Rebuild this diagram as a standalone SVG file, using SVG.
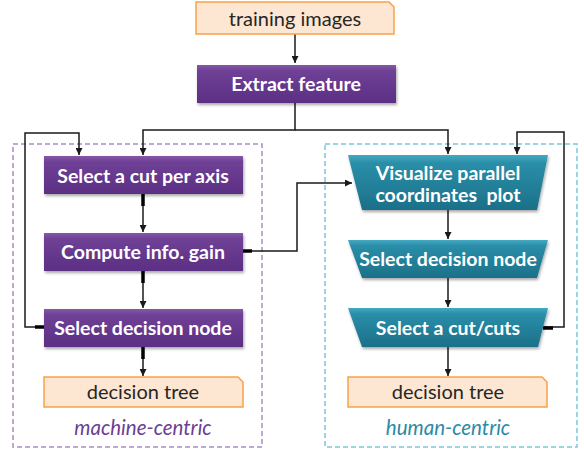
<svg xmlns="http://www.w3.org/2000/svg" width="584" height="451" viewBox="0 0 584 451">
  <defs>
    <linearGradient id="gPurple" x1="0" y1="0" x2="0" y2="1">
      <stop offset="0" stop-color="#8559a8"/>
      <stop offset="0.15" stop-color="#6f4196"/>
      <stop offset="1" stop-color="#5b2f84"/>
    </linearGradient>
    <linearGradient id="gTeal" x1="0" y1="0" x2="0" y2="1">
      <stop offset="0" stop-color="#45a9c2"/>
      <stop offset="0.15" stop-color="#2a8ea8"/>
      <stop offset="1" stop-color="#1c7089"/>
    </linearGradient>
    <filter id="shadow" x="-10%" y="-20%" width="120%" height="150%">
      <feGaussianBlur in="SourceAlpha" stdDeviation="1.5"/>
      <feOffset dx="1" dy="2" result="b"/>
      <feComponentTransfer><feFuncA type="linear" slope="0.35"/></feComponentTransfer>
      <feMerge><feMergeNode/><feMergeNode in="SourceGraphic"/></feMerge>
    </filter>
    <marker id="arrow" viewBox="0 0 10 10" refX="10" refY="5" markerWidth="7" markerHeight="7" markerUnits="userSpaceOnUse" orient="auto">
      <path d="M0,0 L10,5 L0,10 Z" fill="#1a1a1a"/>
    </marker>
  </defs>
  <style>
    .proc { font-family: Lato, "Open Sans", sans-serif; font-weight: bold; font-size: 19.5px; fill: #ffffff; text-anchor: middle; white-space: pre; }
    .data { fill: #fde6d2; stroke: #f7a24a; stroke-width: 1.5; }
    .dtext { font-family: Lato, "Open Sans", sans-serif; font-size: 20px; fill: #262626; text-anchor: middle; }
    .conn { fill: none; stroke: #1a1a1a; stroke-width: 1.5; }
    .stub { fill: none; stroke: #000000; stroke-width: 3.5; }
    .frame { fill: none; stroke-width: 1.5; stroke-dasharray: 5 3; }
    .cap { font-family: Lato, "Open Sans", sans-serif; font-style: italic; font-size: 20.5px; text-anchor: middle; }
  </style>

  <rect width="584" height="451" fill="#ffffff"/>

  <!-- dashed group frames -->
  <g id="machine-centric">
    <rect class="frame" x="13" y="144" width="249" height="303" stroke="#a98cc6"/>
    <text class="cap" x="143" y="435" fill="#6a3f93">machine-centric</text>
  </g>
  <g id="human-centric">
    <rect class="frame" x="325" y="144" width="252" height="303" stroke="#7cc6d9"/>
    <text class="cap" x="448" y="435" fill="#2b8aa6">human-centric</text>
  </g>

  <!-- connectors -->
  <g id="connectors">
    <path class="conn" d="M295,34 V63" marker-end="url(#arrow)"/>
    <path class="conn" d="M295,103 V130 H143 V155" marker-end="url(#arrow)"/>
    <path class="conn" d="M295,130 H448 V154" marker-end="url(#arrow)"/>
    <path class="conn" d="M143,194 V232" marker-end="url(#arrow)"/>
    <path class="conn" d="M143,271 V308" marker-end="url(#arrow)"/>
    <path class="conn" d="M143,347 V376" marker-end="url(#arrow)"/>
    <path class="conn" d="M44,327 H25 V133 H79 V155" marker-end="url(#arrow)"/>
    <path class="conn" d="M243,251 H297 V183 H352" marker-end="url(#arrow)"/>
    <path class="conn" d="M448,210 V239" marker-end="url(#arrow)"/>
    <path class="conn" d="M448,278 V307" marker-end="url(#arrow)"/>
    <path class="conn" d="M448,347 V376" marker-end="url(#arrow)"/>
    <path class="conn" d="M543,327 H564 V132 H517 V154" marker-end="url(#arrow)"/>
    <!-- heavier stubs where lines leave the boxes -->
    <path class="stub" d="M143,194 V206"/>
    <path class="stub" d="M143,271 V283"/>
    <path class="stub" d="M143,347 V359"/>
    <path class="stub" d="M44,327 H35"/>
    <path class="stub" d="M243,251 H252"/>
    <path class="stub" d="M543,328 H553"/>
  </g>

  <!-- data nodes -->
  <g id="training-images">
    <path class="data" d="M196,2 H389 L394,7 V34 H196 Z"/>
    <text class="dtext" x="295" y="26">training images</text>
  </g>
  <g id="decision-tree-left">
    <path class="data" d="M44,377 H238 L243,382 V407 H44 Z"/>
    <text class="dtext" x="143" y="399">decision tree</text>
  </g>
  <g id="decision-tree-right">
    <path class="data" d="M348,377 H542 L547,382 V407 H348 Z"/>
    <text class="dtext" x="448" y="399">decision tree</text>
  </g>

  <!-- machine-centric process nodes -->
  <g id="extract-feature">
    <rect x="197" y="65" width="199" height="38" fill="url(#gPurple)" filter="url(#shadow)"/>
    <text class="proc" x="296" y="91">Extract feature</text>
  </g>
  <g id="select-cut-per-axis">
    <rect x="44" y="156" width="199" height="38" fill="url(#gPurple)" filter="url(#shadow)"/>
    <text class="proc" x="143" y="183">Select a cut per axis</text>
  </g>
  <g id="compute-info-gain">
    <rect x="44" y="233" width="199" height="38" fill="url(#gPurple)" filter="url(#shadow)"/>
    <text class="proc" x="143" y="259">Compute info. gain</text>
  </g>
  <g id="select-decision-node-left">
    <rect x="44" y="309" width="199" height="38" fill="url(#gPurple)" filter="url(#shadow)"/>
    <text class="proc" x="143" y="335">Select decision node</text>
  </g>

  <!-- human-centric process nodes -->
  <g id="visualize-pcp">
    <path d="M348,155 H548 L537,210 H362 Z" fill="url(#gTeal)" filter="url(#shadow)"/>
    <text class="proc" x="448" y="180">Visualize parallel</text>
    <text class="proc" x="448" y="202">coordinates  plot</text>
  </g>
  <g id="select-decision-node-right">
    <path d="M348,240 H548 L537,278 H362 Z" fill="url(#gTeal)" filter="url(#shadow)"/>
    <text class="proc" x="448" y="266">Select decision node</text>
  </g>
  <g id="select-cuts">
    <path d="M348,308 H548 L538,347 H362 Z" fill="url(#gTeal)" filter="url(#shadow)"/>
    <text class="proc" x="448" y="335">Select a cut/cuts</text>
  </g>
</svg>
